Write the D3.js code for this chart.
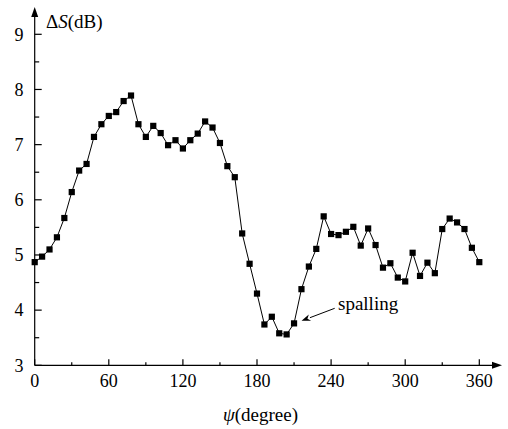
<!DOCTYPE html>
<html>
<head>
<meta charset="utf-8">
<script src="https://cdn.jsdelivr.net/npm/d3@7"></script>
<style>
  html, body { margin: 0; padding: 0; background: #fff; }
  svg { display: block; }
</style>
</head>
<body>
<svg id="chart" width="508" height="429"></svg>
<script>
// ---- data ----
const angles = d3.range(0, 361, 6); // psi in degrees, 0..360 step 6
const deltaS = [
  4.87, 4.97, 5.10, 5.32, 5.67, 6.14, 6.53, 6.65, 7.14, 7.37,
  7.52, 7.59, 7.79, 7.89, 7.37, 7.14, 7.34, 7.21, 6.99, 7.08,
  6.93, 7.08, 7.20, 7.42, 7.31, 7.03, 6.61, 6.41, 5.39, 4.84,
  4.30, 3.74, 3.88, 3.58, 3.56, 3.76, 4.38, 4.79, 5.11, 5.70,
  5.38, 5.36, 5.42, 5.51, 5.17, 5.48, 5.18, 4.77, 4.85, 4.59,
  4.52, 5.04, 4.62, 4.86, 4.67, 5.47, 5.66, 5.59, 5.47, 5.13,
  4.87
];
const xTicks = [0, 60, 120, 180, 240, 300, 360];
const xMinorTicks = [30, 90, 150, 210, 270, 330];
const yTicks = [3, 4, 5, 6, 7, 8, 9];
const yMinorTicks = [3.5, 4.5, 5.5, 6.5, 7.5, 8.5];
const annotation = { label: "spalling", index: 35 };

const FONT = "'Liberation Serif', 'Times New Roman', Times, serif";

// ---- layout ----
const svg = d3.select("#chart");
const x0 = 34.7, x1 = 479.3, y0 = 365.3, y1 = 34.3;
const x = d3.scaleLinear().domain([0, 360]).range([x0, x1]);
const y = d3.scaleLinear().domain([3, 9]).range([y0, y1]);

// axes lines
const axisG = svg.append("g").attr("stroke", "#000").attr("stroke-width", 1.2);
axisG.append("line").attr("x1", x0).attr("x2", 494).attr("y1", y0).attr("y2", y0);
axisG.append("line").attr("x1", x0).attr("x2", x0).attr("y1", y0).attr("y2", 15);
// arrows
svg.append("path").attr("d", `M${x0},7 L${x0 - 3.5},17 L${x0 + 3.5},17 Z`).attr("fill", "#000");
svg.append("path").attr("d", `M502,${y0} L492,${y0 - 3.5} L492,${y0 + 3.5} Z`).attr("fill", "#000");

// x ticks (inside)
axisG.selectAll(".xt").data(xTicks).enter().append("line")
  .attr("x1", d => x(d)).attr("x2", d => x(d)).attr("y1", y0).attr("y2", y0 - 6);
axisG.selectAll(".xm").data(xMinorTicks).enter().append("line")
  .attr("x1", d => x(d)).attr("x2", d => x(d)).attr("y1", y0).attr("y2", y0 - 3);
// y ticks (inside)
axisG.selectAll(".yt").data(yTicks).enter().append("line")
  .attr("x1", x0).attr("x2", x0 + 7).attr("y1", d => y(d)).attr("y2", d => y(d));
axisG.selectAll(".ym").data(yMinorTicks).enter().append("line")
  .attr("x1", x0).attr("x2", x0 + 4.5).attr("y1", d => y(d)).attr("y2", d => y(d));

// tick labels
svg.selectAll(".xl").data(xTicks).enter().append("text")
  .attr("font-family", FONT)
  .attr("x", d => x(d)).attr("y", 386.5).attr("text-anchor", "middle")
  .attr("font-size", 18).text(d => d);
svg.selectAll(".yl").data(yTicks).enter().append("text")
  .attr("font-family", FONT)
  .attr("x", 23.5).attr("y", d => y(d) + 6.3).attr("text-anchor", "end")
  .attr("font-size", 18).text(d => d);

// axis titles
const yt = svg.append("text").attr("font-family", FONT).attr("x", 46).attr("y", 27.5).attr("font-size", 19);
yt.append("tspan").text("Δ");
yt.append("tspan").attr("font-style", "italic").text("S");
yt.append("tspan").text("(dB)");
const xt = svg.append("text").attr("font-family", FONT).attr("x", 260.5).attr("y", 421).attr("text-anchor", "middle").attr("font-size", 19);
xt.append("tspan").attr("font-style", "italic").text("ψ");
xt.append("tspan").text("(degree)");

// line
const pts = angles.map((a, i) => [a, deltaS[i]]);
svg.append("path").datum(pts)
  .attr("fill", "none").attr("stroke", "#000").attr("stroke-width", 1)
  .attr("d", d3.line().x(d => x(d[0])).y(d => y(d[1])));
// markers
const ms = 6.2;
svg.selectAll(".m").data(pts).enter().append("rect")
  .attr("x", d => x(d[0]) - ms / 2).attr("y", d => y(d[1]) - ms / 2)
  .attr("width", ms).attr("height", ms).attr("fill", "#000");

// annotation
const ap = pts[annotation.index];
const tipX = x(ap[0]) + 7.5, tipY = y(ap[1]) - 2.5;
const startX = 334.7, startY = 308.3;
const ang = Math.atan2(startY - tipY, startX - tipX);
const hl = 9, hw = 3.3;
const bx = tipX + hl * Math.cos(ang), by = tipY + hl * Math.sin(ang);
const px = -Math.sin(ang) * hw, py = Math.cos(ang) * hw;
svg.append("line").attr("x1", startX).attr("y1", startY).attr("x2", bx).attr("y2", by)
  .attr("stroke", "#000").attr("stroke-width", 1);
const nx = tipX + 0.7 * hl * Math.cos(ang), ny = tipY + 0.7 * hl * Math.sin(ang);
svg.append("path")
  .attr("d", `M${tipX},${tipY} L${bx + px},${by + py} L${nx},${ny} L${bx - px},${by - py} Z`)
  .attr("fill", "#000");
svg.append("text").attr("font-family", FONT).attr("x", 338).attr("y", 310).attr("font-size", 19).text(annotation.label);
</script>
</body>
</html>
